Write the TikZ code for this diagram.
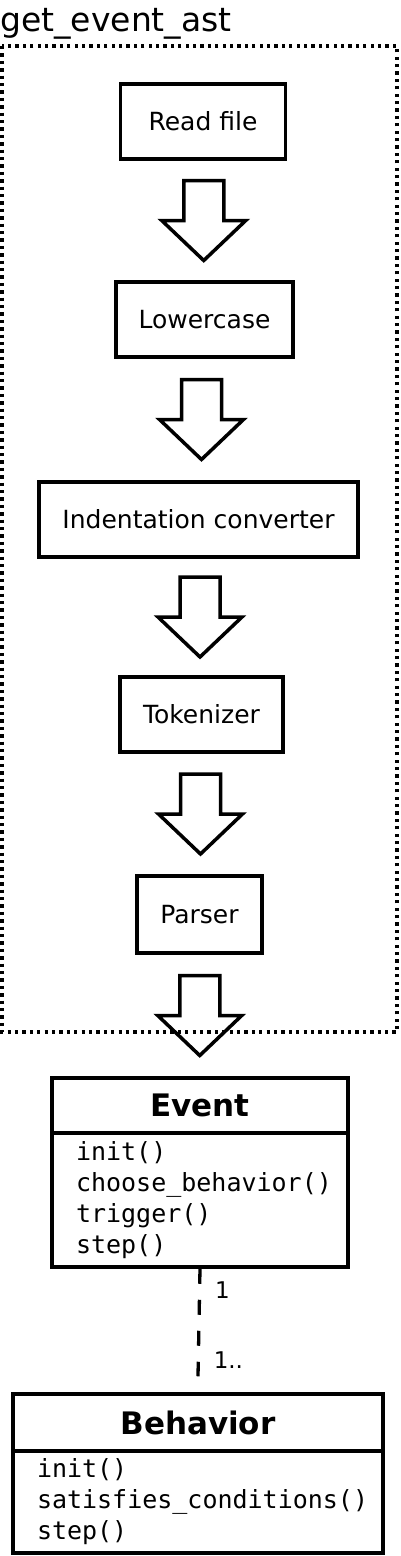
\documentclass[tikz,border=0pt]{standalone}
\usepackage{fontspec}
\setmainfont{DejaVu Sans}
\setmonofont{DejaVu Sans Mono}
\usetikzlibrary{calc}
\begin{document}
\begin{tikzpicture}[x=1pt,y=-1pt,
    stage/.style={draw, line width=3.5pt, minimum height=75pt, inner sep=0pt, font=\fontsize{25}{30}\selectfont},
    classhead/.style={draw, line width=3.5pt, inner sep=0pt, font=\fontsize{31}{37}\selectfont\bfseries},
    classbody/.style={draw, line width=3.5pt, inner xsep=24pt, inner ysep=0pt, align=left, font=\fontsize{25}{31}\selectfont\ttfamily},
    mult/.style={inner sep=0pt, anchor=base west, xshift=14pt, font=\fontsize{23}{27}\selectfont},
    pics/flowarrow/.style={code={
        \draw[line width=3.5pt] (-20,-40) -- (20,-40) -- (20,0) -- (42,0) -- (0,40) -- (-42,0) -- (-20,0) -- cycle;
    }}]
    \useasboundingbox (0,0) rectangle (400,1556);
    \node[inner sep=0pt, anchor=base west, font=\fontsize{33}{39}\selectfont] (Title) at (0,31) {get\_event\_ast};
    \draw[line width=3.3pt, dash pattern=on 3.3pt off 4.1pt] (2,46) rectangle (397,1032);% frame of get_event_ast
    \node[stage, minimum width=165pt] (ReadFile)   at (203,121.5) {Read file};
    \node[stage, minimum width=177pt] (Lowercase)  at (204.5,319.5) {Lowercase};
    \node[stage, minimum width=319pt] (IndentConv) at (198.5,519.5) {Indentation converter};
    \node[stage, minimum width=163pt] (Tokenizer)  at (201.5,714.5) {Tokenizer};
    \node[stage, minimum width=125pt, minimum height=77pt] (Parser) at (199.5,914.5) {Parser};
    % classes
    \node[classhead, minimum width=296pt, minimum height=55pt] (EventHead) at (200,1105.5) {Event};
    \node[classbody, text width=248pt, minimum height=134pt] (EventBody) at (200,1200)
        {init()\\choose\_behavior()\\trigger()\\step()};
    \node[classhead, minimum width=370pt, minimum height=57pt] (BehaviorHead) at (198,1422.5) {Behavior};
    \node[classbody, text width=322pt, minimum height=102pt] (BehaviorBody) at (198,1502)
        {init()\\satisfies\_conditions()\\step()};
    % block arrows between the stages
    \pic at ($(ReadFile.south)!.5!(Lowercase.north)$) {flowarrow};
    \pic at ($(Lowercase.south)!.5!(IndentConv.north)$) {flowarrow};
    \pic at ($(IndentConv.south)!.5!(Tokenizer.north)$) {flowarrow};
    \pic at ($(Tokenizer.south)!.5!(Parser.north)$) {flowarrow};
    \pic at ($(Parser.south)!.5!(EventHead.north)$) {flowarrow};
    % association
    \draw[line width=3.3pt, dash pattern=on 15pt off 16pt] (EventBody.south) -- ([yshift=16pt]BehaviorHead.north)
        node[mult, pos=0.28]{1} node[mult, pos=0.93]{1..};
\end{tikzpicture}
\end{document}
